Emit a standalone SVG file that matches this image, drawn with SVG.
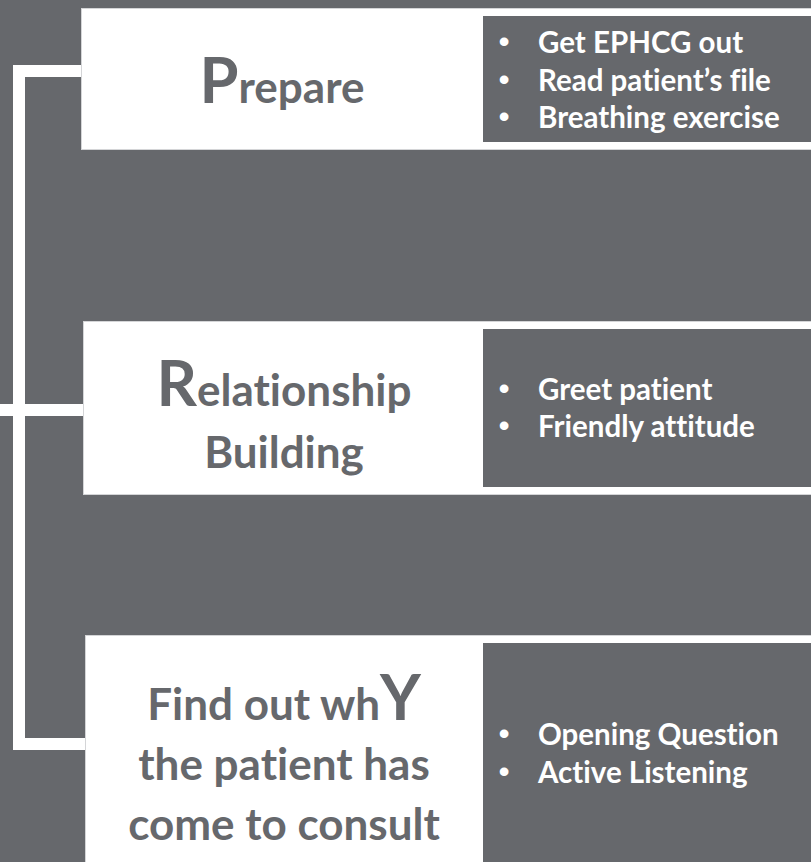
<svg xmlns="http://www.w3.org/2000/svg" width="811" height="862" viewBox="0 0 811 862">
  <style>
    .bg { fill: #66686c; }
    .card { fill: #ffffff; stroke: #d4d5d7; stroke-width: 1; }
    .panel { fill: #66686c; }
    text { font-variant-ligatures: none; font-feature-settings: "liga" 0, "clig" 0; }
    .title { font-family: Lato, "Liberation Sans", sans-serif; font-weight: 700; fill: #66686c; text-anchor: middle; font-size: 44px; }
    .big { font-size: 63px; }
    .item { font-family: Lato, "Liberation Sans", sans-serif; font-weight: 700; fill: #ffffff; font-size: 29.5px; }
    .dot { font-family: "Liberation Sans", sans-serif; fill: #ffffff; font-size: 32px; text-anchor: middle; }
    .conn { fill: none; stroke: #ffffff; stroke-width: 12; stroke-linejoin: miter; stroke-linecap: butt; }
  </style>
  <rect class="bg" x="0" y="0" width="811" height="862"/>

  <g id="connectors">
    <path class="conn" d="M81,71 H19 V744 H85"/>
    <path class="conn" d="M0,410 H83"/>
  </g>

  <g id="node-prepare">
    <rect class="card" x="81.5" y="8.5" width="740" height="141"/>
    <text class="title" x="282" y="103"><tspan class="big">P</tspan>repare</text>
  </g>
  <g id="node-prepare-details">
    <rect class="panel" x="483" y="16" width="340" height="126"/>
    <text class="dot" x="504" y="52">•</text>
    <text class="item" x="538" y="53">Get EPHCG out</text>
    <text class="dot" x="504" y="90">•</text>
    <text class="item" x="538" y="91">Read patient’s file</text>
    <text class="dot" x="504" y="127">•</text>
    <text class="item" x="538" y="128">Breathing exercise</text>
  </g>

  <g id="node-relationship">
    <rect class="card" x="83.5" y="321.5" width="740" height="173"/>
    <text class="title" x="284" y="406"><tspan class="big">R</tspan>elationship</text>
    <text class="title" x="284" y="468">Building</text>
  </g>
  <g id="node-relationship-details">
    <rect class="panel" x="483" y="329" width="340" height="158"/>
    <text class="dot" x="504" y="399">•</text>
    <text class="item" x="538" y="400">Greet patient</text>
    <text class="dot" x="504" y="436">•</text>
    <text class="item" x="538" y="437">Friendly attitude</text>
  </g>

  <g id="node-why">
    <rect class="card" x="85.5" y="635.5" width="740" height="240"/>
    <text class="title" x="284" y="720">Find out wh<tspan class="big">Y</tspan></text>
    <text class="title" x="284" y="780">the patient has</text>
    <text class="title" x="284" y="840">come to consult</text>
  </g>
  <g id="node-why-details">
    <rect class="panel" x="483" y="643" width="340" height="230"/>
    <text class="dot" x="504" y="744">•</text>
    <text class="item" x="538" y="745">Opening Question</text>
    <text class="dot" x="504" y="782">•</text>
    <text class="item" x="538" y="783">Active Listening</text>
  </g>
</svg>
